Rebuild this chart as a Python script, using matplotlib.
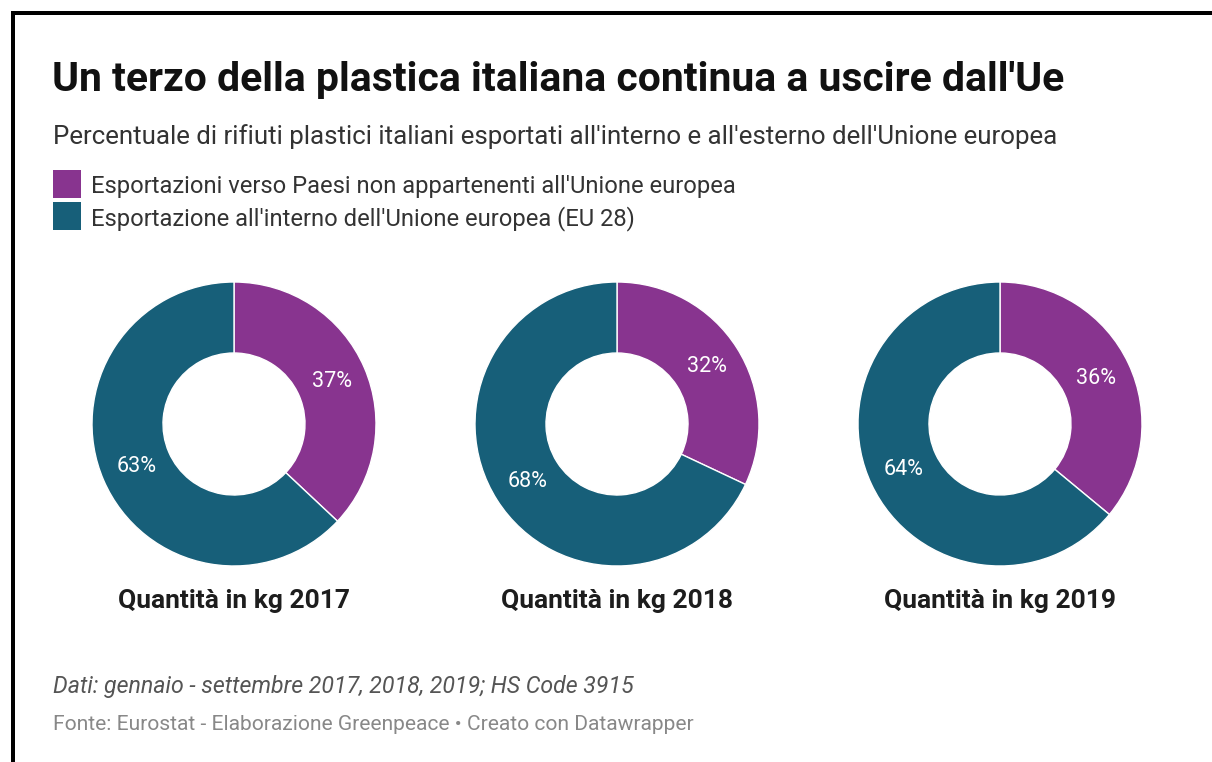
import matplotlib
matplotlib.use("Agg")
import matplotlib.pyplot as plt
from matplotlib.patches import Rectangle

plt.rcParams['font.family'] = ['Roboto', 'DejaVu Sans']

W, H = 1212, 762
DPI = 100

title = "Un terzo della plastica italiana continua a uscire dall'Ue"
subtitle = "Percentuale di rifiuti plastici italiani esportati all'interno e all'esterno dell'Unione europea"
series_names = ["Esportazioni verso Paesi non appartenenti all'Unione europea",
                "Esportazione all'interno dell'Unione europea (EU 28)"]
colors = ["#88348f", "#175f79"]
years = ["Quantità in kg 2017", "Quantità in kg 2018", "Quantità in kg 2019"]
non_eu = [37, 32, 36]
eu = [63, 68, 64]
note = "Dati: gennaio - settembre 2017, 2018, 2019; HS Code 3915"
source = "Fonte: Eurostat - Elaborazione Greenpeace • Creato con Datawrapper"

fig = plt.figure(figsize=(W / DPI, H / DPI), dpi=DPI)
fig.patch.set_facecolor("white")


def fx(x):
    return x / W


def fy(y):
    return 1 - y / H


# border (left and top)
fig.patches.append(Rectangle((fx(11), 0), fx(4), fy(11), transform=fig.transFigure,
                             facecolor="black", edgecolor="none"))
fig.patches.append(Rectangle((fx(11), fy(15)), 1 - fx(11), 4 / H, transform=fig.transFigure,
                             facecolor="black", edgecolor="none"))

fig.text(fx(52), fy(91), title, fontsize=29.4, fontweight="bold", color="#111111", va="baseline")
fig.text(fx(53), fy(144), subtitle, fontsize=18.6, color="#333333", va="baseline")

for i, (name, c) in enumerate(zip(series_names, colors)):
    top = 170 + i * 32
    fig.patches.append(Rectangle((fx(53), fy(top + 28)), fx(28), 28 / H, transform=fig.transFigure,
                                 facecolor=c, edgecolor="none"))
    fig.text(fx(91), fy(193 + i * 32), name, fontsize=17.1, color="#333333", va="baseline")

centers = [234, 617, 1000]
R = 142
for cx, yr, a, b in zip(centers, years, non_eu, eu):
    ax = fig.add_axes([fx(cx - R), fy(424 + R), 2 * R / W, 2 * R / H])
    wedges, texts, autotexts = ax.pie(
        [a, b], colors=colors, startangle=90, counterclock=False,
        wedgeprops=dict(width=0.5, edgecolor="white", linewidth=1),
        autopct=lambda p: f"{round(p)}%", pctdistance=0.75,
        textprops=dict(color="white", fontsize=15.5))
    ax.set_xlim(-1, 1)
    ax.set_ylim(-1, 1)
    ax.set_aspect("equal")
    ax.axis("off")
    fig.text(fx(cx), fy(608), yr, fontsize=19, fontweight="bold", color="#1d1d1d",
             ha="center", va="baseline")

fig.text(fx(53), fy(693), note, fontsize=16.7, style="italic", color="#555555", va="baseline")
fig.text(fx(53), fy(730), source, fontsize=15.1, color="#888888", va="baseline")

fig.savefig("out.png", dpi=DPI)
